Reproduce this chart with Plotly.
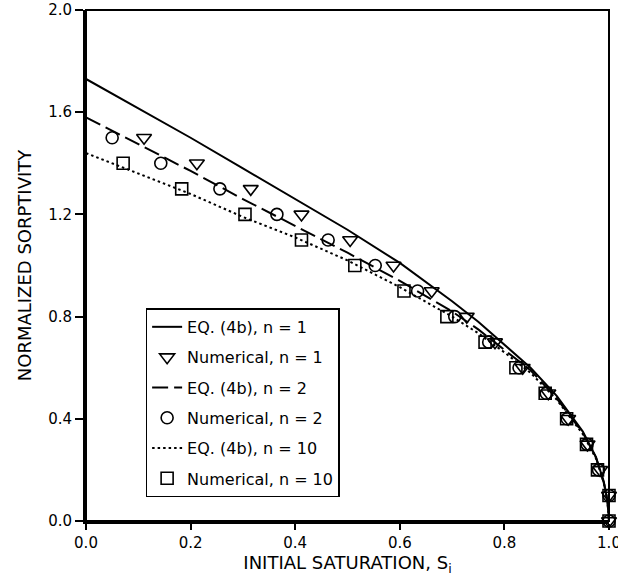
import plotly.graph_objects as go

# ---- data ----
eq_x = [0.0, 0.1, 0.2, 0.3, 0.4, 0.5, 0.6, 0.7, 0.75, 0.8, 0.85, 0.9, 0.95, 0.975, 0.99, 0.997, 1.0]
eq_n1 = [1.73, 1.615, 1.50, 1.38, 1.26, 1.14, 1.01, 0.86, 0.78, 0.69, 0.60, 0.49, 0.35, 0.25, 0.155, 0.08, 0.0]
eq_n2 = [1.58, 1.475, 1.37, 1.26, 1.155, 1.05, 0.94, 0.82, 0.75, 0.67, 0.59, 0.48, 0.345, 0.25, 0.15, 0.08, 0.0]
eq_n10 = [1.44, 1.36, 1.28, 1.19, 1.11, 1.02, 0.915, 0.80, 0.735, 0.66, 0.58, 0.475, 0.34, 0.245, 0.15, 0.08, 0.0]

num_y = [1.5, 1.4, 1.3, 1.2, 1.1, 1.0, 0.9, 0.8, 0.7, 0.6, 0.5, 0.4, 0.3, 0.2, 0.1, 0.0]
num_n1_x = [0.111, 0.212, 0.315, 0.412, 0.505, 0.588, 0.661, 0.728, 0.782, 0.835, 0.884, 0.922, 0.959, 0.983, 1.0, 1.0]
num_n2_x = [0.05, 0.143, 0.256, 0.365, 0.463, 0.553, 0.634, 0.705, 0.77, 0.828, 0.88, 0.92, 0.958, 0.98, 1.0, 1.0]
num_n10_y = [1.4, 1.3, 1.2, 1.1, 1.0, 0.9, 0.8, 0.7, 0.6, 0.5, 0.4, 0.3, 0.2, 0.1, 0.0]
num_n10_x = [0.071, 0.183, 0.304, 0.412, 0.514, 0.608, 0.69, 0.763, 0.822, 0.878, 0.919, 0.957, 0.978, 1.0, 1.0]

x_ticks = [0.0, 0.2, 0.4, 0.6, 0.8, 1.0]
x_tick_labels = ["0.0", "0.2", "0.4", "0.6", "0.8", "1.0"]
y_ticks = [0.0, 0.4, 0.8, 1.2, 1.6, 2.0]
y_tick_labels = ["0.0", "0.4", "0.8", "1.2", "1.6", "2.0"]

FONT = "DejaVu Sans"

fig = go.Figure()

def eq_trace(y, name, dash, group):
    return go.Scatter(x=eq_x, y=y, mode="lines", name=name, legendgroup=group,
                      line=dict(color="black", width=2, dash=dash), cliponaxis=False)

def num_trace(x, y, name, symbol, size, group):
    return go.Scatter(x=x, y=y, mode="markers", name=name, legendgroup=group,
                      marker=dict(symbol=symbol, size=size, color="black",
                                  line=dict(color="black", width=1.6)),
                      cliponaxis=False)

fig.add_trace(eq_trace(eq_n1, "EQ. (4b), n = 1", "solid", "a"))
fig.add_trace(num_trace(num_n1_x, num_y, "Numerical, n = 1", "triangle-down-open", 13, "b"))
fig.add_trace(eq_trace(eq_n2, "EQ. (4b), n = 2", "16px,6px", "c"))
fig.add_trace(num_trace(num_n2_x, num_y, "Numerical, n = 2", "circle-open", 12, "d"))
fig.add_trace(eq_trace(eq_n10, "EQ. (4b), n = 10", "2.5px,3px", "e"))
fig.add_trace(num_trace(num_n10_x, num_n10_y, "Numerical, n = 10", "square-open", 12, "f"))

fig.update_layout(
    width=618, height=581,
    margin=dict(l=86, r=9, t=10, b=60, autoexpand=False),
    paper_bgcolor="white", plot_bgcolor="white",
    font=dict(family=FONT, color="black", size=15),
    showlegend=True,
    legend=dict(x=0.114, y=0.416, xanchor="left", yanchor="top",
                bordercolor="black", borderwidth=1.5, bgcolor="white",
                font=dict(family=FONT, size=16, color="black"),
                tracegroupgap=6.5, traceorder="grouped"),
    xaxis=dict(range=[0, 1], tickvals=x_ticks, ticktext=x_tick_labels, automargin=False,
               showgrid=False, zeroline=False, showline=True, linecolor="black", linewidth=3,
               ticks="outside", ticklen=6, tickwidth=1.5, tickcolor="black",
               tickfont=dict(family=FONT, size=15), ticklabeloverflow="allow",
               title=dict(text="INITIAL SATURATION, S<sub>i</sub>", font=dict(family=FONT, size=18), standoff=4)),
    yaxis=dict(range=[0, 2], tickvals=y_ticks, ticktext=y_tick_labels, automargin=False,
               showgrid=False, zeroline=False, showline=True, linecolor="black", linewidth=3,
               ticks="outside", ticklen=8, tickwidth=1.5, tickcolor="black",
               tickfont=dict(family=FONT, size=15), ticklabeloverflow="allow",
               title=dict(text="NORMALIZED SORPTIVITY", font=dict(family=FONT, size=18), standoff=12)),
    shapes=[dict(type="rect", xref="paper", yref="paper", x0=0, y0=0, x1=1, y1=1,
                 line=dict(color="black", width=2), layer="above")],
)

fig.write_html("out.html", config={"displayModeBar": False},
               post_script="document.body.style.margin='0';document.body.style.overflow='hidden';")
